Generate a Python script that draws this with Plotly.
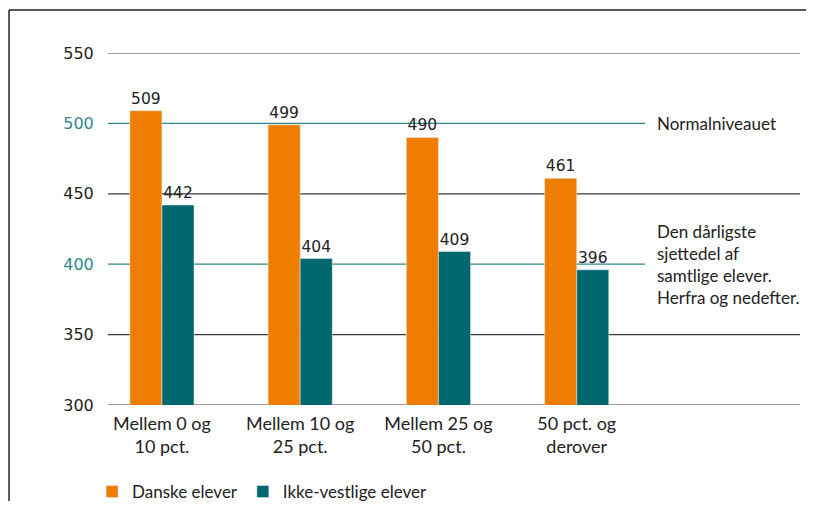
import plotly.graph_objects as go

# Data.
categories = ["Mellem 0 og<br>10 pct.", "Mellem 10 og<br>25 pct.",
              "Mellem 25 og<br>50 pct.", "50 pct. og<br>derover"]
danske = [509, 499, 490, 461]
ikke_vestlige = [442, 404, 409, 396]
y_ticks = [300, 350, 400, 450, 500, 550]
marked_levels = [500, 400]
marked_notes = ["Normalniveauet",
                "Den dårligste<br>sjettedel af<br>samtlige elever.<br>Herfra og nedefter."]

ORANGE = "#EF7D00"
TEAL = "#00676F"
TEAL_LINE = "#2E8A8C"
GRID = "#3A3A3A"
TEXT = "#222222"
NUM_FONT = "DejaVu Sans"
TXT_FONT = "Lato"

x = list(range(len(categories)))
bar_w = 0.232

fig = go.Figure()
fig.add_trace(go.Bar(
    x=x, y=danske, name="Danske elever", marker_color=ORANGE,
    width=bar_w, offset=-bar_w,
    text=danske, textposition="outside", cliponaxis=False,
    textfont=dict(family=NUM_FONT, size=15.5, color=TEXT),
))
fig.add_trace(go.Bar(
    x=x, y=ikke_vestlige, name="Ikke-vestlige elever", marker_color=TEAL,
    width=bar_w, offset=0,
    text=ikke_vestlige, textposition="outside", cliponaxis=False,
    textfont=dict(family=NUM_FONT, size=15.5, color=TEXT),
))

# Horizontal reference lines: teal for the marked levels, dark otherwise.
for v in y_ticks:
    if v in marked_levels:
        fig.add_shape(type="line", xref="paper", yref="y", x0=0, x1=0.776,
                      y0=v, y1=v, line=dict(color=TEAL_LINE, width=1.2), layer="below")
    else:
        fig.add_shape(type="line", xref="paper", yref="y", x0=0, x1=1,
                      y0=v, y1=v, line=dict(color=GRID, width=1.2), layer="below")

for v, note in zip(marked_levels, marked_notes):
    fig.add_annotation(x=0.79, xref="paper", y=v, yref="y", text=note,
                       showarrow=False, xanchor="left", align="left",
                       yanchor="middle",
                       font=dict(family=TXT_FONT, size=17, color=TEXT))

# Outer frame (left and top edges).
fig.add_shape(type="line", xref="paper", yref="paper", x0=-0.143, x1=1.05,
              y0=1.122, y1=1.122, line=dict(color="#222222", width=1.5))
fig.add_shape(type="line", xref="paper", yref="paper", x0=-0.143, x1=-0.143,
              y0=1.122, y1=-0.5, line=dict(color="#222222", width=1.5))

tick_text = [
    f"<span style='color:{TEAL_LINE}'>{v}</span>" if v in marked_levels else str(v)
    for v in y_ticks
]

# The page body adds an 8px margin, so the figure is sized to fit inside it.
fig.update_layout(
    width=798, height=493,
    margin=dict(l=100, r=6, t=45, b=96, autoexpand=False),
    paper_bgcolor="white", plot_bgcolor="white",
    barmode="overlay",
    font=dict(family=TXT_FONT, size=17, color=TEXT),
    xaxis=dict(range=[-0.39, 4.615], tickvals=x, ticktext=categories,
               showgrid=False, zeroline=False, showline=False,
               ticks="outside", ticklen=2, tickcolor="rgba(0,0,0,0)",
               tickfont=dict(family=TXT_FONT, size=18, color=TEXT)),
    yaxis=dict(range=[300, 550], tickvals=y_ticks, ticktext=tick_text,
               showgrid=False, zeroline=False, showline=False,
               ticks="outside", ticklen=10, tickcolor="rgba(0,0,0,0)",
               tickfont=dict(family=NUM_FONT, size=16, color=TEXT)),
    legend=dict(orientation="h", x=-0.023, xanchor="left", y=-0.247,
                yanchor="middle", font=dict(family=TXT_FONT, size=17, color=TEXT),
                itemwidth=30, traceorder="normal"),
    showlegend=True,
)

fig.write_html("out.html")
